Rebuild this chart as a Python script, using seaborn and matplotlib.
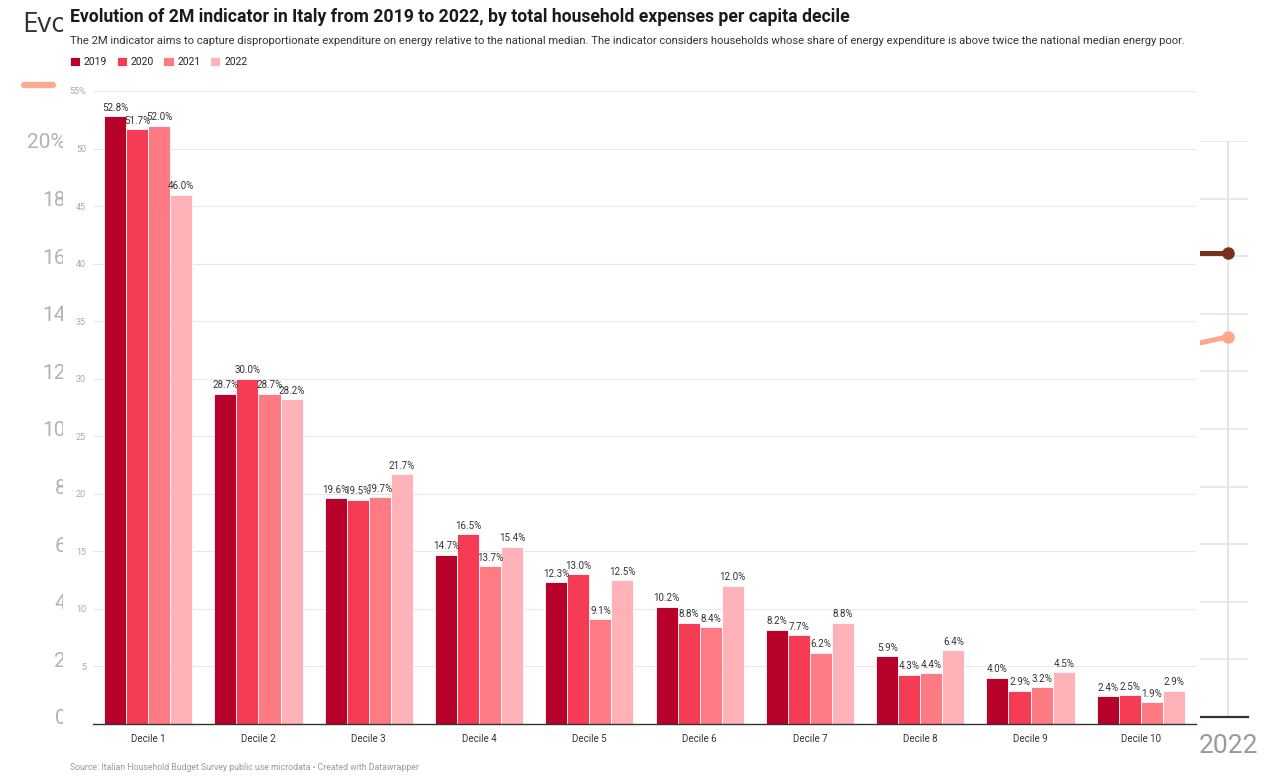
import matplotlib
matplotlib.use("Agg")
import matplotlib.pyplot as plt
from matplotlib.patches import Rectangle
from matplotlib.lines import Line2D
import pandas as pd
import seaborn as sns

# ------------------------------------------------------------------
# data
# ------------------------------------------------------------------
DECILES = [f"Decile {i}" for i in range(1, 11)]
YEARS = ["2019", "2020", "2021", "2022"]
V2019 = [52.8, 28.7, 19.6, 14.7, 12.3, 10.2, 8.2, 5.9, 4.0, 2.4]
V2020 = [51.7, 30.0, 19.5, 16.5, 13.0, 8.8, 7.7, 4.3, 2.9, 2.5]
V2021 = [52.0, 28.7, 19.7, 13.7, 9.1, 8.4, 6.2, 4.4, 3.2, 1.9]
V2022 = [46.0, 28.2, 21.7, 15.4, 12.5, 12.0, 8.8, 6.4, 4.5, 2.9]
COLORS = ["#b7002a", "#f63c55", "#ff7b84", "#ffb3b9"]

Y_TICKS = [5, 10, 15, 20, 25, 30, 35, 40, 45, 50, 55]
Y_LABELS = [str(t) for t in Y_TICKS[:-1]] + ["55%"]

# the chart that peeks out behind the screenshot
BG_TICKS = [0, 2, 4, 6, 8, 10, 12, 14, 16, 18, 20]
BG_LABELS = [str(t) for t in BG_TICKS[:-1]] + ["20%"]
BG_YEARS = [2021, 2022]
BG_DARK = [16.1, 16.1]
BG_LIGHT = [10.4, 13.2]

TITLE = "Evolution of 2M indicator in Italy from 2019 to 2022, by total household expenses per capita decile"
SUBTITLE = ("The 2M indicator aims to capture disproportionate expenditure on energy relative to the national median. "
            "The indicator considers households whose share of energy expenditure is above twice the national median energy poor.")
SOURCE = "Source: Italian Household Budget Survey public use microdata \u2022 Created with Datawrapper"

df = pd.DataFrame({
    "decile": DECILES * 4,
    "year": [y for y in YEARS for _ in DECILES],
    "value": V2019 + V2020 + V2021 + V2022,
})

sns.set_theme(style="white")
plt.rcParams["font.family"] = ["Roboto", "DejaVu Sans"]

W, H = 1274, 777
fig = plt.figure(figsize=(W / 100, H / 100), dpi=100)

# ------------------------------------------------------------------
# background chart (mostly hidden by the white card)
# ------------------------------------------------------------------
ax_bg = fig.add_axes([66 / W, (H - 717) / H, (1248 - 66) / W, 576 / H], zorder=0)
ax_bg.set_ylim(0, 20)
ax_bg.set_xlim(2018.91, 2022.053)
ax_bg.set_yticks(BG_TICKS)
ax_bg.set_yticklabels(BG_LABELS)
ax_bg.tick_params(axis="y", length=0, pad=0, labelsize=15, labelcolor="#b3b3b3")
ax_bg.set_xticks([2022])
ax_bg.set_xticklabels(["2022"])
ax_bg.tick_params(axis="x", length=0, pad=12, labelsize=19, labelcolor="#9a9a9a")
ax_bg.yaxis.grid(True, color="#e6e6e6", lw=1.3)
ax_bg.vlines(2022, 0, 20, color="#e3e3e3", lw=1.3)
for s in ["top", "right", "left"]:
    ax_bg.spines[s].set_visible(False)
ax_bg.spines["bottom"].set_color("#333333")
ax_bg.spines["bottom"].set_linewidth(1.6)
ax_bg.plot(BG_YEARS, BG_DARK, color="#7a301f", lw=3.6, marker="o", ms=8, markevery=[-1])
ax_bg.plot(BG_YEARS, BG_LIGHT, color="#ffa68c", lw=3.6, marker="o", ms=8, markevery=[-1])

fig.text(22 / W, 1 - 25 / H, "Evo", fontsize=20, color="#333333", va="center", ha="left",
         family=["Open Sans", "DejaVu Sans"], zorder=0.5)
fig.add_artist(Line2D([24 / W, 53 / W], [1 - 85 / H, 1 - 85 / H], transform=fig.transFigure,
                      color="#ffa98f", lw=4.5, solid_capstyle="round", zorder=0.5))

# white card of the main chart
fig.add_artist(Rectangle((63 / W, 0), (1200 - 63) / W, 1, transform=fig.transFigure,
                         facecolor="white", edgecolor="none", zorder=1))

# ------------------------------------------------------------------
# main chart
# ------------------------------------------------------------------
ax = fig.add_axes([93 / W, (H - 724) / H, (1196 - 93) / W, 633 / H], zorder=2)
ax.set_facecolor("white")
sns.barplot(data=df, x="decile", y="value", hue="year", hue_order=YEARS, order=DECILES,
            palette=COLORS, saturation=1, width=0.8, edgecolor="white", linewidth=0.6, ax=ax)

for c in ax.containers:
    ax.bar_label(c, fmt="%.1f%%", padding=2.5, fontsize=7, color="#333333")

ax.set_xlim(-0.5, 9.5)
ax.set_ylim(0, 55)
ax.set_yticks(Y_TICKS)
ax.set_yticklabels(Y_LABELS)
ax.tick_params(axis="y", length=0, pad=5, labelsize=6.5, labelcolor="#aaaaaa")
ax.tick_params(axis="x", length=3, width=0.8, color="#333333", pad=4, labelsize=7, labelcolor="#333333")
ax.yaxis.grid(True, color="#e8e8e8", lw=0.8)
ax.set_axisbelow(True)
ax.set_xlabel("")
ax.set_ylabel("")
for s in ["top", "right", "left"]:
    ax.spines[s].set_visible(False)
ax.spines["bottom"].set_color("#333333")
ax.spines["bottom"].set_linewidth(1.0)

handles, labels = ax.get_legend_handles_labels()
ax.legend(handles, labels, loc="center left", bbox_to_anchor=(70 / W, 1 - 62 / H),
          bbox_transform=fig.transFigure, ncol=4, frameon=False, fontsize=7.5,
          handlelength=1.0, handleheight=1.0, handletextpad=0.35, columnspacing=0.9,
          borderpad=0, borderaxespad=0)

fig.text(70 / W, 1 - 17 / H, TITLE, fontsize=12.7, fontweight="bold", color="#1a1a1a", va="center", ha="left")
fig.text(70 / W, 1 - 41 / H, SUBTITLE, fontsize=8.13, color="#333333", va="center", ha="left")
fig.text(70 / W, 1 - 768 / H, SOURCE, fontsize=6.3, color="#9a9a9a", va="center", ha="left")

fig.savefig("out.png", dpi=100, facecolor="white")
